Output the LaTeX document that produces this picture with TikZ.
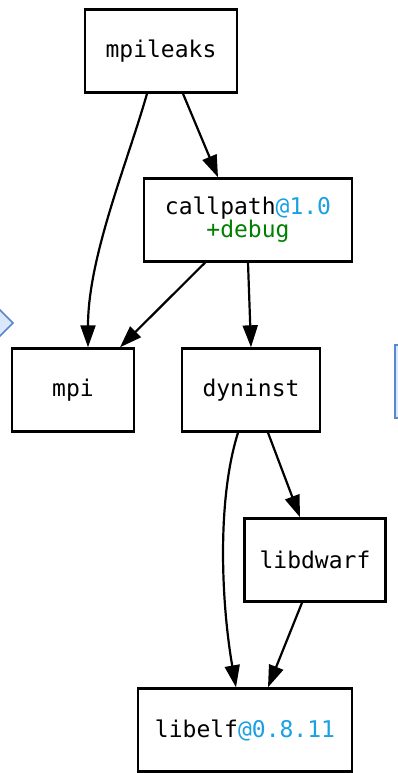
\documentclass[tikz,border=0pt]{standalone}
\usepackage{fontspec}
\setmonofont{DejaVu Sans Mono}
\usetikzlibrary{shapes, arrows.meta}
\definecolor{verblue}{RGB}{27,161,226}
\definecolor{vargreen}{RGB}{0,128,0}
\definecolor{slidefill}{RGB}{218,232,252}
\definecolor{slideline}{RGB}{90,135,200}
\tikzstyle{package} = [rectangle, draw=black, line width=2.4pt, minimum height=83pt, text centered, align=center, fill=white, font=\ttfamily\fontsize{23}{22}\selectfont]
\tikzstyle{arrow} = [line width=2.2pt, -{Triangle[length=22pt, width=15pt]}]
\tikzstyle{slide} = [draw=slideline, fill=slidefill, line width=1.5pt]

\begin{document}
\begin{tikzpicture}[x=1pt, y=-1pt]
\useasboundingbox (0,0) rectangle (398,773);
\clip (0,0) rectangle (398,773);
% cut-off shapes at the edges
\draw[slide] (-20,290) -- (13,323) -- (-20,356) -- cycle;
\draw[slide] (395,345) rectangle (430,418);
% packages
\node(mpileaks) [package, minimum width=152pt] at (161,51) {mpileaks};
\node(callpath) [package, minimum width=208pt] at (248,220) {callpath\textcolor{verblue}{@1.0}\\\textcolor{vargreen}{+debug}};
\node(mpi) [package, minimum width=122pt] at (73,390) {mpi};
\node(dyninst) [package, minimum width=138pt] at (251,390) {dyninst};
\node(libdwarf) [package, minimum width=141pt] at (315,560) {libdwarf};
\node(libelf) [package, minimum width=214pt] at (245,730) {libelf\textcolor{verblue}{@0.8.11}};
% dependencies
\draw[arrow] ([xshift=-14pt]mpileaks.south) .. controls +(-20,70) and +(0,-90) .. ([xshift=15pt]mpi.north);
\draw[arrow] ([xshift=22pt]mpileaks.south) -- ([xshift=-30pt]callpath.north);
\draw[arrow] ([xshift=-43pt]callpath.south) -- ([xshift=47pt]mpi.north);
\draw[arrow] (callpath.south) -- (dyninst.north);
\draw[arrow] ([xshift=-13pt]dyninst.south) .. controls +(-22,70) and +(-14,-80) .. ([xshift=-9pt]libelf.north);
\draw[arrow] ([xshift=17pt]dyninst.south) -- ([xshift=-15pt]libdwarf.north);
\draw[arrow] ([xshift=-13pt]libdwarf.south) -- ([xshift=23pt]libelf.north);
\end{tikzpicture}
\end{document}
